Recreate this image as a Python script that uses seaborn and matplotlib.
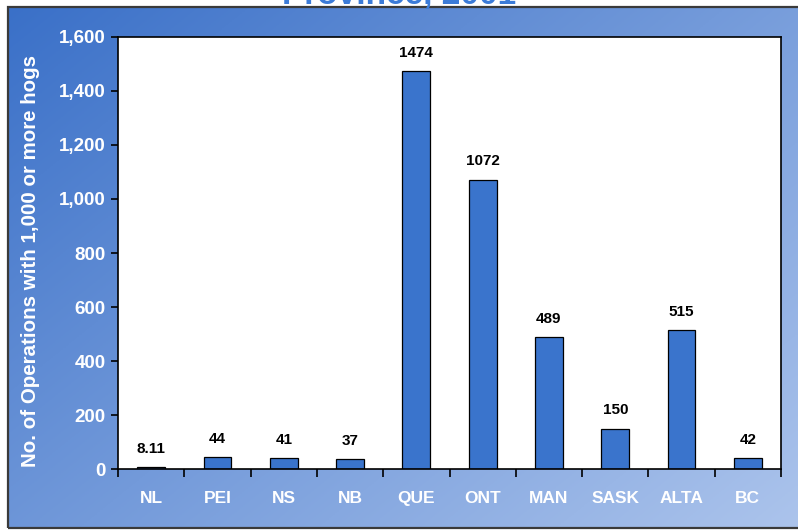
import numpy as np
import pandas as pd
import matplotlib
matplotlib.use("Agg")
import matplotlib.pyplot as plt
from matplotlib.patches import Rectangle
import seaborn as sns

provinces = ["NL", "PEI", "NS", "NB", "QUE", "ONT", "MAN", "SASK", "ALTA", "BC"]
operations = [8.11, 44, 41, 37, 1474, 1072, 489, 150, 515, 42]
value_labels = ["8.11", "44", "41", "37", "1474", "1072", "489", "150", "515", "42"]
y_ticks = [0, 200, 400, 600, 800, 1000, 1200, 1400, 1600]

sns.set_theme(style="white")
plt.rcParams["font.family"] = ["Liberation Sans", "DejaVu Sans"]

W, H = 798, 530
fig = plt.figure(figsize=(W / 100, H / 100), dpi=100)
fig.patch.set_facecolor("white")

# blue gradient panel behind the chart
bg = fig.add_axes([8 / W, 2 / H, 1 - 8 / W, 521 / H], zorder=0)
gx, gy = np.meshgrid(np.linspace(0, 1, 300), np.linspace(0, 1, 200))
t = np.clip(0.55 * gx + 0.45 * gy, 0, 1)
c0 = np.array([58, 112, 200]) / 255
c1 = np.array([172, 196, 236]) / 255
img = c0[None, None, :] * (1 - t[..., None]) + c1[None, None, :] * t[..., None]
bg.imshow(img, aspect="auto", extent=[0, 1, 0, 1], origin="upper")
bg.set_xlim(0, 1)
bg.set_ylim(0, 1)
bg.axis("off")
fig.patches.append(Rectangle((8 / W, 2 / H), 1 - 8 / W + 0.01, 521 / H,
                             transform=fig.transFigure, fill=False,
                             edgecolor="#3a3a3a", linewidth=1.6, zorder=1))

# title, mostly above the top edge of the image
fig.text(399 / W, 1 - 4 / H, "Province, 2001", ha="center", va="baseline",
         fontsize=24, fontweight="bold", color="#3b7bd8", zorder=5)

ax = fig.add_axes([118 / W, 1 - 469 / H, (781 - 118) / W, (469 - 37) / H], zorder=2)
df = pd.DataFrame({"province": provinces, "operations": operations})
sns.barplot(data=df, x="province", y="operations", ax=ax, color="#3a74cc",
            saturation=1, width=0.42, edgecolor="black", linewidth=0.9)

ax.set_facecolor("white")
ax.set_ylim(0, 1600)
ax.set_xlim(-0.5, len(provinces) - 0.5)
ax.set_yticks(y_ticks)
ax.set_yticklabels([f"{v:,}" for v in y_ticks], color="white",
                   fontsize=13.5, fontweight="bold")
ax.set_xticks(range(len(provinces)))
ax.set_xticklabels(provinces, color="white", fontsize=12.5, fontweight="bold")
ax.set_xticks(np.arange(-0.5, len(provinces), 1), minor=True)
ax.tick_params(axis="x", which="major", length=0, pad=16)
ax.tick_params(axis="x", which="minor", length=6, width=1.2, color="black",
               direction="out", bottom=True)
ax.tick_params(axis="y", length=5, width=1.2, color="black", direction="out",
               left=True, pad=4)
for s in ax.spines.values():
    s.set_color("black")
    s.set_linewidth(1.2)
ax.set_xlabel("")
ax.set_ylabel("No. of Operations with 1,000 or more hogs", color="white",
              fontsize=14.8, fontweight="bold")
ax.yaxis.set_label_coords(-0.118, 0.481)

for i, (v, lab) in enumerate(zip(operations, value_labels)):
    ax.annotate(lab, (i, v), xytext=(0, 8), textcoords="offset points",
                ha="center", va="bottom", fontsize=11, fontweight="bold",
                color="black")

fig.savefig("out.png", dpi=100)
